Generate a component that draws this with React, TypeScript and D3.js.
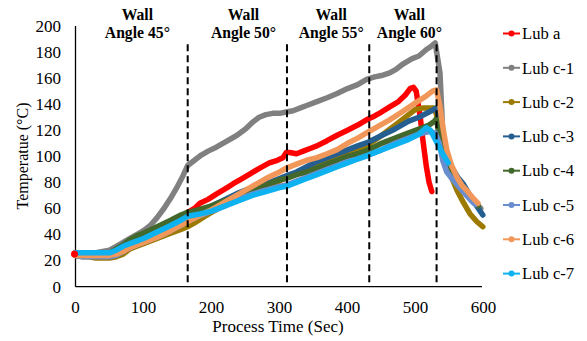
import React from "react";
import * as d3 from "d3";

type Pt = [number, number];

const seriesNames = ["Lub a", "Lub c-1", "Lub c-2", "Lub c-3", "Lub c-4", "Lub c-5", "Lub c-6", "Lub c-7"];
const seriesColors = ["#FF0000", "#808080", "#9C7A00", "#255E91", "#43682B", "#698ED0", "#F1975A", "#0FB2F0"];

const lubA: Pt[] = [[0,25],[10,25],[20,25],[30,25],[40,25],[50,26],[60,28],[70,31],[80,34],[90,37],[100,40],[115,43],[130,47],[150,52],[165,57],[175,60],[183,64],[195,67],[207,71],[220,75],[232,79],[245,83],[258,87],[271,91],[285,95],[297,97],[305,99],[310,103],[315,103],[325,102],[335,104],[345,106],[355,108],[370,112],[384,116],[400,120],[415,124],[428,128],[440,131],[450,134],[462,138],[475,142],[485,147],[492,152],[497,153],[501,150],[504,140],[507,130],[511,112],[516,92],[520,80],[524,73]];
const lubC1: Pt[] = [[0,26],[10,26],[20,26],[30,26],[40,27],[50,28],[60,31],[70,34],[80,37],[90,40],[100,43],[110,47],[120,53],[130,60],[140,68],[150,77],[158,85],[165,93],[175,97],[185,101],[195,104],[207,107],[220,111],[237,116],[250,121],[260,126],[270,130],[280,132],[290,133],[300,133],[310,134],[320,135],[330,137],[340,139],[355,142],[370,145],[384,148],[400,152],[415,155],[428,159],[440,161],[450,162],[462,164],[472,167],[482,171],[495,175],[505,177],[516,182],[522,184],[529,187],[536,164],[540,120],[545,100],[555,88],[570,76],[585,66],[596,60]];
const lubC2: Pt[] = [[0,24],[10,23],[20,23],[30,22],[40,22],[50,22],[60,23],[70,25],[80,29],[90,31],[100,33],[120,37],[140,41],[155,44],[165,46],[175,49],[190,54],[200,57],[220,63],[240,68],[260,73],[280,77],[300,81],[310,84],[330,88],[350,92],[370,96],[390,100],[410,104],[431,109],[450,116],[470,124],[490,132],[500,136],[510,137],[520,137],[527,137],[531,132],[536,120],[541,105],[546,95],[553,84],[561,74],[570,65],[580,56],[590,50],[599,46]];
const lubC3: Pt[] = [[0,24],[10,24],[20,24],[30,24],[40,24],[50,24],[60,25],[70,27],[80,30],[90,33],[100,35],[120,40],[140,45],[165,53],[180,57],[200,62],[220,67],[240,72],[260,76],[280,79],[300,83],[310,85],[325,88],[340,92],[355,96],[370,99],[385,102],[400,105],[415,108],[431,111],[450,116],[470,121],[490,127],[505,130],[520,134],[530,137],[535,130],[540,115],[546,102],[553,92],[562,84],[570,79],[580,70],[590,62],[599,55]];
const lubC4: Pt[] = [[0,24],[10,24],[20,24],[30,24],[40,25],[50,26],[60,29],[70,32],[80,36],[90,39],[100,41],[120,46],[140,51],[155,55],[165,57],[180,59],[200,62],[220,66],[240,70],[260,74],[280,78],[300,82],[310,83],[325,86],[340,88],[355,91],[370,94],[385,97],[400,100],[415,102],[431,105],[450,110],[470,114],[490,118],[505,121],[520,124],[528,127],[531,129],[534,118],[540,105],[546,97],[555,88],[565,80],[575,73],[585,66],[592,62]];
const lubC5: Pt[] = [[0,24],[10,23],[20,23],[30,23],[40,23],[50,23],[60,24],[70,27],[80,30],[90,32],[100,34],[120,38],[140,43],[165,50],[180,54],[200,58],[220,62],[240,67],[260,71],[280,74],[300,77],[310,78],[325,81],[340,84],[355,87],[370,90],[385,93],[400,96],[415,98],[431,101],[450,105],[470,110],[490,114],[505,117],[520,119],[529,118],[535,110],[540,97],[546,88],[555,82],[565,76],[575,70],[582,66],[588,63]];
const lubC6: Pt[] = [[0,24],[10,24],[20,24],[30,24],[40,24],[50,24],[60,25],[70,27],[80,30],[90,32],[100,34],[120,38],[140,43],[165,50],[180,54],[200,59],[220,65],[240,71],[260,77],[280,83],[300,88],[310,91],[325,94],[340,97],[355,99],[370,102],[384,105],[400,110],[415,114],[428,118],[445,123],[462,128],[480,134],[500,141],[515,146],[525,150],[531,151],[536,138],[541,120],[546,105],[553,93],[561,84],[568,78],[575,74],[583,69],[592,64]];
const lubC7: Pt[] = [[0,26],[10,26],[20,26],[30,26],[40,26],[50,26],[60,28],[70,31],[80,33],[90,35],[100,37],[120,42],[140,47],[155,51],[165,54],[175,55],[185,56],[200,58],[220,62],[240,66],[260,70],[280,73],[300,76],[310,77],[325,80],[340,83],[355,86],[370,89],[385,92],[400,95],[415,98],[431,101],[450,105],[470,109],[490,113],[505,117],[516,122],[522,120],[528,114],[534,108],[540,102],[548,95]];

const seriesData: Pt[][] = [lubA, lubC1, lubC2, lubC3, lubC4, lubC5, lubC6, lubC7];

const xTicks = [0, 100, 200, 300, 400, 500, 600];
const yTicks = [0, 20, 40, 60, 80, 100, 120, 140, 160, 180, 200];
const dividers = [165, 311, 432, 531];
const angleLabels = ["Angle 45°", "Angle 50°", "Angle 55°", "Angle 60°"];
const angleLabelX = [91, 247, 376, 491];

export default function App() {
  const W = 587, H = 341;
  const x = d3.scaleLinear().domain([0, 600]).range([75.5, 483.5]);
  const y = d3.scaleLinear().domain([0, 200]).range([286.7, 26]);
  const line = d3.line<Pt>().x(d => x(d[0])).y(d => y(d[1])).curve(d3.curveLinear);
  const font = "Liberation Serif, DejaVu Serif, serif";

  return (
    <svg width={W} height={H} style={{ position: "absolute", left: 0, top: 0, background: "#fff", fontFamily: font }}>
      <rect width={W} height={H} fill="#fff" />
      <line x1={x(0)} x2={x(0)} y1={y(200)} y2={y(0)} stroke="#000" strokeWidth={1.3} />
      {seriesData.map((s, i) => (
        <path key={i} d={line(s) || ""} fill="none" stroke={seriesColors[i]} strokeWidth={5.5} strokeLinejoin="round" strokeLinecap="round" />
      ))}
      <circle cx={x(lubA[0][0]) - 1} cy={y(lubA[0][1])} r={3.5} fill={seriesColors[0]} />
      <line x1={x(0)} x2={x(600) - 1.5} y1={y(0)} y2={y(0)} stroke="#000" strokeWidth={1.3} />
      {dividers.map((d, i) => (
        <line key={i} x1={x(d)} x2={x(d)} y1={y(186)} y2={y(0)} stroke="#000" strokeWidth={2} strokeDasharray="7,4" />
      ))}
      {angleLabels.map((t, i) => (
        <g key={i} fontWeight="bold" fontSize={15.7} textAnchor="middle">
          <text x={x(angleLabelX[i])} y={20}>Wall</text>
          <text x={x(angleLabelX[i])} y={37.5}>{t}</text>
        </g>
      ))}
      {yTicks.map(t => (
        <text key={t} x={61} y={y(t) + 5.8} fontSize={17} textAnchor="end">{t}</text>
      ))}
      {xTicks.map(t => (
        <text key={t} x={x(t)} y={313} fontSize={17} textAnchor="middle">{t}</text>
      ))}
      <text transform="translate(28,156) rotate(-90)" fontSize={16} textAnchor="middle">Temperatue (°C)</text>
      <text x={278} y={332} fontSize={17} textAnchor="middle">Process Time (Sec)</text>
      {seriesNames.map((n, i) => {
        const cy = 33.5 + i * 34.3;
        return (
          <g key={n}>
            <line x1={503} x2={520} y1={cy} y2={cy} stroke={seriesColors[i]} strokeWidth={2} />
            <circle cx={511.5} cy={cy} r={3} fill={seriesColors[i]} />
            <text x={522} y={cy + 5.7} fontSize={16.6}>{n}</text>
          </g>
        );
      })}
    </svg>
  );
}
